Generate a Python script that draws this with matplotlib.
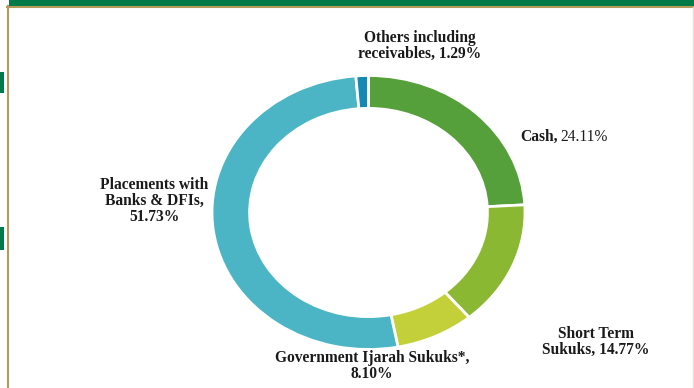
import matplotlib.pyplot as plt
from matplotlib.patches import Rectangle
from matplotlib.lines import Line2D

# portfolio mix
categories = ['Cash', 'Short Term Sukuks', 'Government Ijarah Sukuks*',
              'Placements with Banks & DFIs', 'Others including receivables']
shares = [24.11, 14.77, 8.10, 51.73, 1.29]
colors = ['#55A03A', '#8BB832', '#C4D03A', '#4BB5C6', '#1588B4']

W, H = 694, 388
fig = plt.figure(figsize=(W / 100, H / 100), dpi=100)
ax = fig.add_axes([0, 0, 1, 1])

ax.pie(shares, colors=colors, startangle=90, counterclock=False, radius=1,
       wedgeprops=dict(width=0.24, edgecolor='white', linewidth=2))

# ring is stretched a little wider than tall
cx, cy = 368.5, 212.5
rx, ry = 156.5, 137
ax.set_aspect('auto')
ax.set_xlim((0 - cx) / rx, (W - cx) / rx)
ax.set_ylim((cy - H) / ry, cy / ry)
ax.axis('off')


def fx(px):
    return px / W


def fy(py):
    return 1 - py / H


font = dict(family='Liberation Serif', fontsize=11.2, color='#1a1a1a')
ls = 1.0

fig.text(fx(420), fy(45.5), 'Others including\nreceivables, %.2f%%' % shares[4],
         ha='center', va='center', fontweight='bold', linespacing=ls, **font)
fig.text(fx(520.5), fy(136.5), 'Cash,', ha='left', va='center',
         fontweight='bold', **font)
fig.text(fx(560), fy(136.5), '%.2f%%' % shares[0], ha='left', va='center', **font)
fig.text(fx(596), fy(341.5), 'Short Term\nSukuks, %.2f%%' % shares[1],
         ha='center', va='center', fontweight='bold', linespacing=ls, **font)
fig.text(fx(372), fy(366.5), 'Government Ijarah Sukuks*,\n%.2f%%' % shares[2],
         ha='center', va='center', fontweight='bold', linespacing=ls, **font)
fig.text(fx(154), fy(200.5), 'Placements with\nBanks & DFIs,\n%.2f%%' % shares[3],
         ha='center', va='center', fontweight='bold', linespacing=ls, **font)

# page frame: green header band, gold rule, side borders
fig.patches.append(Rectangle((fx(9), fy(6)), 1, 6 / H, transform=fig.transFigure,
                             facecolor='#007A48', edgecolor='none'))
fig.lines.append(Line2D([fx(7), 1], [fy(6.5), fy(6.5)], transform=fig.transFigure,
                        color='#B59A5A', linewidth=1.5))
fig.lines.append(Line2D([fx(7.5), fx(7.5)], [fy(6), 0], transform=fig.transFigure,
                        color='#B59A5A', linewidth=1.5))
fig.lines.append(Line2D([fx(692.5), fx(692.5)], [fy(7), 0], transform=fig.transFigure,
                        color='#E6E0D6', linewidth=1))
for y0, y1 in [(72, 93), (227, 250)]:
    fig.patches.append(Rectangle((0, fy(y1)), fx(3.5), (y1 - y0) / H,
                                 transform=fig.transFigure,
                                 facecolor='#007A48', edgecolor='none'))

fig.savefig('out.png', dpi=100)
